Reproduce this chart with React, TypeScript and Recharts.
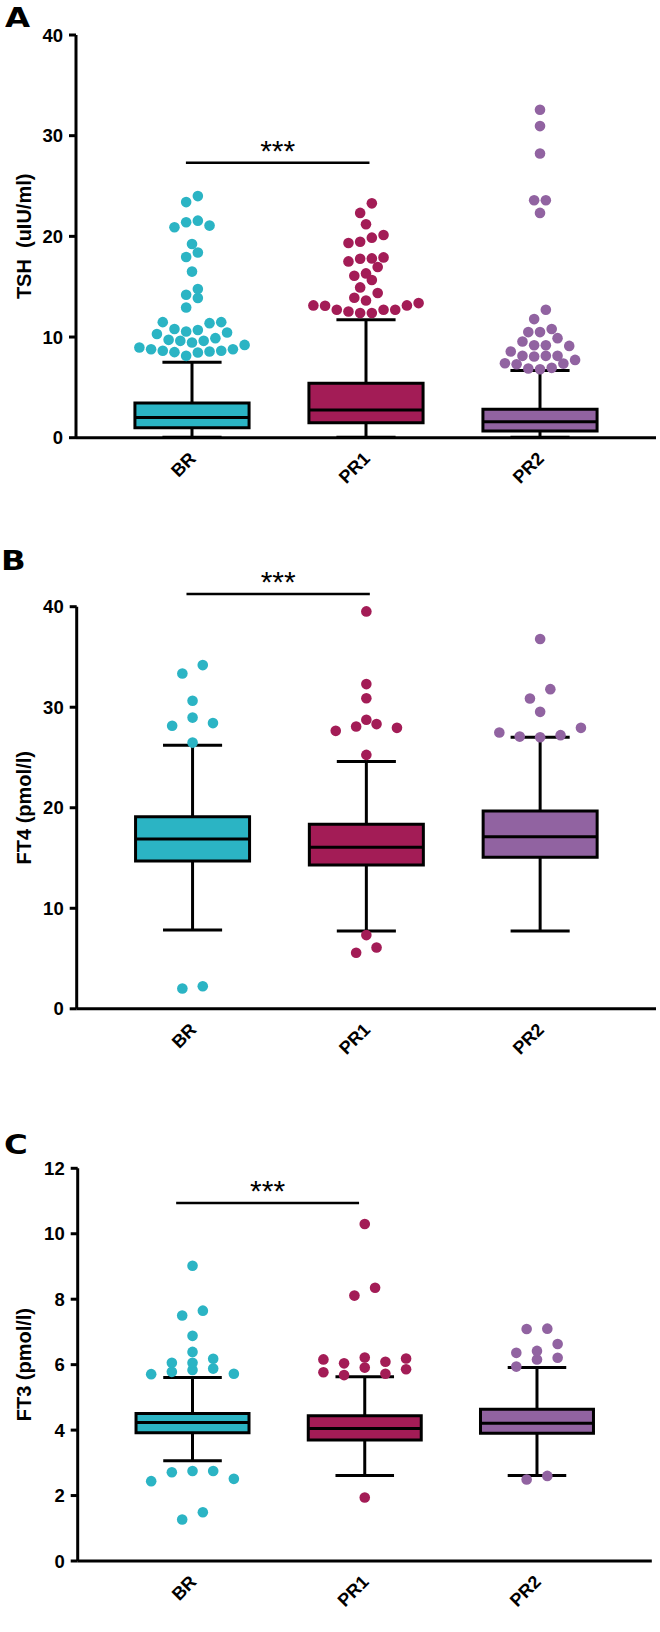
import React from "react";
import {
  ComposedChart,
  Scatter,
  XAxis,
  YAxis,
  ReferenceArea,
  ReferenceLine,
  ReferenceDot,
} from "recharts";

const FONT = '"Liberation Sans", Arial, Helvetica, sans-serif';

const groups = ["BR", "PR1", "PR2"];
const colors = ["#2bb4c4", "#a31c56", "#9163a1"];

// A: TSH (uIU/ml)
const tshBR = [8.56, 9.22, 8.79, 8.96, 8.13, 8.79, 8.5, 8.63, 8.46, 8.63, 9.89, 10.45, 9.45, 10.55, 9.62, 9.72, 10.3, 9.62, 11.48, 11.48, 10.7, 11.38, 10.8, 12.94, 14.2, 13.87, 14.77, 16.5, 17.95, 18.4, 19.24, 21.07, 20.9, 21.56, 21.4, 23.4, 24.0];
const tshPR1 = [12.71, 13.37, 13.14, 13.14, 12.38, 13.1, 12.54, 12.71, 12.38, 12.71, 14.37, 13.63, 13.9, 14.93, 15.66, 16.32, 16.09, 16.95, 17.51, 17.78, 17.91, 17.81, 20.14, 19.47, 19.34, 19.87, 21.2, 22.33, 23.28];
const tshPR2 = [6.94, 8.06, 10.49, 9.19, 8.13, 7.36, 10.79, 9.55, 7.73, 12.71, 6.8, 8.13, 9.12, 9.89, 8.56, 7.4, 11.78, 6.87, 8.13, 9.19, 10.49, 7.3, 22.33, 23.58, 23.58, 28.23, 30.95, 32.58];
const tshLow = [0.05, 0.05, 0.05];
const tshQ1 = [1.0, 1.49, 0.67];
const tshMed = [2.0, 2.76, 1.59];
const tshQ3 = [3.45, 5.41, 2.82];
const tshHigh = [7.5, 11.71, 6.67];
const tshTicks = [0, 10, 20, 30, 40];

// B: FT4 (pmol/l)
const ft4BR = [2.02, 2.25, 26.48, 28.42, 28.15, 28.97, 30.64, 33.36, 34.19];
const ft4PR1 = [5.57, 6.1, 7.33, 25.26, 28.08, 28.75, 27.65, 27.95, 28.32, 30.9, 32.3, 39.53];
const ft4PR2 = [27.08, 27.95, 27.22, 27.48, 27.02, 29.54, 30.87, 31.8, 36.78];
const ft4Low = [7.83, 7.73, 7.73];
const ft4Q1 = [14.7, 14.3, 15.07];
const ft4Med = [16.89, 16.06, 17.12];
const ft4Q3 = [19.11, 18.36, 19.68];
const ft4High = [26.22, 24.59, 27.02];
const ft4Ticks = [0, 10, 20, 30, 40];

// C: FT3 (pmol/l)
const ft3BR = [1.27, 1.49, 2.51, 2.44, 2.75, 2.71, 2.75, 5.84, 5.71, 5.72, 5.78, 5.88, 6.18, 6.06, 6.06, 6.39, 6.88, 7.65, 7.5, 9.02];
const ft3PR1 = [1.94, 6.19, 6.16, 5.86, 6.04, 5.72, 5.77, 6.09, 5.68, 6.22, 5.91, 8.11, 8.35, 10.3];
const ft3PR2 = [2.49, 2.6, 5.94, 6.16, 6.21, 6.63, 6.42, 6.36, 7.09, 7.1];
const ft3Low = [3.06, 2.61, 2.61];
const ft3Q1 = [3.92, 3.7, 3.9];
const ft3Med = [4.23, 4.05, 4.21];
const ft3Q3 = [4.51, 4.44, 4.64];
const ft3High = [5.61, 5.63, 5.91];
const ft3Ticks = [0, 2, 4, 6, 8, 10, 12];

// significance bars (BR vs PR1): x from, x to, y
const tshSig = [-0.035, 1.02, 27.3];
const ft4Sig = [-0.035, 1.02, 41.27];
const ft3Sig = [-0.095, 0.967, 10.94];

const BOX_HALF = 0.328;
const CAP_HALF = 0.17;
const DOT_W = 0.064;

// prism-like column scatter: values binned into rows, rows spread symmetrically
function swarm(values: number[], center: number, lane: number, bin: number) {
  const sorted = [...values].sort((a, b) => a - b);
  const placed: { x: number; y: number }[] = [];
  let i = 0;
  while (i < sorted.length) {
    const start = sorted[i];
    const row: number[] = [];
    while (i < sorted.length && sorted[i] - start <= bin) row.push(sorted[i++]);
    const n = row.length;
    const slots = row.map((_, k) => {
      const off = (k - (n - 1) / 2) * lane;
      const near = placed.filter((p) => Math.abs(p.x - off) < DOT_W).map((p) => p.y);
      return { off, h: near.length ? Math.max(...near) : -Infinity };
    });
    slots.sort((a, b) => a.h - b.h || Math.abs(a.off) - Math.abs(b.off) || a.off - b.off);
    row.forEach((v, k) => placed.push({ x: slots[k].off, y: v }));
  }
  return placed.map((p) => ({ x: center + p.x, y: p.y }));
}

const axisStyle = { stroke: "#000", strokeWidth: 3 };

const yTitle = (text: string) => (props: any) => {
  const vb = props.viewBox || { x: 0, y: 0, height: 0 };
  const cx = vb.x + 23.5;
  const cy = vb.y + vb.height / 2;
  return (
    <text
      x={cx}
      y={cy}
      dy="0.36em"
      transform={`rotate(-90 ${cx} ${cy})`}
      textAnchor="middle"
      fontSize={20}
      fontWeight={700}
      fontFamily={FONT}
      fill="#000"
    >
      {text}
    </text>
  );
};

// category name under the axis, slanted 45 degrees
const groupLabel = (text: string) => (props: any) => {
  const vb = props.viewBox || { x: 0, y: 0, width: 0, height: 0 };
  const ax = vb.x + (vb.width || 0) / 2 + 5;
  const ay = vb.y + (vb.height || 0) / 2 + 22;
  return (
    <text
      x={ax}
      y={ay}
      textAnchor="end"
      fontSize={18}
      fontWeight={700}
      fontFamily={FONT}
      fill="#000"
      style={{
        transform: "rotate(-45deg)",
        transformBox: "view-box",
        transformOrigin: `${ax}px ${ay}px`,
      }}
    >
      {text}
    </text>
  );
};

const dotShape = (props: any) => (
  <circle cx={props.cx} cy={props.cy} r={5.3} fill={props.fill} />
);

type PanelDef = {
  letter: string;
  letterTop: number;
  letterLeft: number;
  top: number;
  height: number;
  margin: { top: number; right: number; bottom: number; left: number };
  xHeight: number;
  yWidth: number;
  title: string;
  ticks: number[];
  series: number[][];
  low: number[];
  q1: number[];
  med: number[];
  q3: number[];
  high: number[];
  sig: number[];
  lane: number;
  bin: number;
};

const panels: PanelDef[] = [
  {
    letter: "A",
    letterTop: 4,
    letterLeft: 5,
    top: 0,
    height: 530,
    margin: { top: 35, right: 4, bottom: 12.3, left: 0 },
    xHeight: 80,
    yWidth: 76,
    title: "TSH\u00a0 (uIU/ml)",
    ticks: tshTicks,
    series: [tshBR, tshPR1, tshPR2],
    low: tshLow,
    q1: tshQ1,
    med: tshMed,
    q3: tshQ3,
    high: tshHigh,
    sig: tshSig,
    lane: 0.0672,
    bin: 1.1,
  },
  {
    letter: "B",
    letterTop: 7,
    letterLeft: 1,
    top: 540,
    height: 560,
    margin: { top: 66.7, right: 4, bottom: 11.2, left: 0 },
    xHeight: 80,
    yWidth: 76.7,
    title: "FT4 (pmol/l)",
    ticks: ft4Ticks,
    series: [ft4BR, ft4PR1, ft4PR2],
    low: ft4Low,
    q1: ft4Q1,
    med: ft4Med,
    q3: ft4Q3,
    high: ft4High,
    sig: ft4Sig,
    lane: 0.1174,
    bin: 1.0,
  },
  {
    letter: "C",
    letterTop: 31,
    letterLeft: 4,
    top: 1100,
    height: 532,
    margin: { top: 68.3, right: 8.2, bottom: 11, left: 0 },
    xHeight: 60,
    yWidth: 77.7,
    title: "FT3 (pmol/l)",
    ticks: ft3Ticks,
    series: [ft3BR, ft3PR1, ft3PR2],
    low: ft3Low,
    q1: ft3Q1,
    med: ft3Med,
    q3: ft3Q3,
    high: ft3High,
    sig: ft3Sig,
    lane: 0.12,
    bin: 0.33,
  },
];

const Panel = ({ d }: { d: PanelDef }) => {
  const dots = d.series.map((vals, i) => swarm(vals, i, d.lane, d.bin));
  const yMax = d.ticks[d.ticks.length - 1];
  return (
    <div style={{ position: "absolute", left: 0, top: d.top, width: 660, height: d.height }}>
      <ComposedChart width={660} height={d.height} margin={d.margin}>
        <XAxis
          type="number"
          dataKey="x"
          domain={[-2 / 3, 8 / 3]}
          ticks={[0, 1, 2]}
          interval={0}
          height={d.xHeight}
          tickSize={6}
          axisLine={axisStyle}
          tickLine={axisStyle}
          tick={false}
        />
        <YAxis
          type="number"
          dataKey="y"
          domain={[0, yMax]}
          ticks={d.ticks}
          interval={0}
          width={d.yWidth}
          tickSize={7}
          tickMargin={6}
          axisLine={axisStyle}
          tickLine={axisStyle}
          tick={{ fill: "#000", fontSize: 18.5, fontWeight: 700, fontFamily: FONT }}
          label={yTitle(d.title)}
        />
        {groups.map((g, i) => (
          <ReferenceArea
            key={"box" + g}
            x1={i - BOX_HALF}
            x2={i + BOX_HALF}
            y1={d.q1[i]}
            y2={d.q3[i]}
            fill={colors[i]}
            fillOpacity={1}
            stroke="#000"
            strokeWidth={3}
          />
        ))}
        {groups.map((g, i) => (
          <ReferenceLine
            key={"med" + g}
            segment={[{ x: i - BOX_HALF, y: d.med[i] }, { x: i + BOX_HALF, y: d.med[i] }]}
            stroke="#000"
            strokeWidth={3}
          />
        ))}
        {groups.map((g, i) => (
          <ReferenceLine
            key={"wh" + g}
            segment={[{ x: i, y: d.q3[i] }, { x: i, y: d.high[i] }]}
            stroke="#000"
            strokeWidth={3}
          />
        ))}
        {groups.map((g, i) => (
          <ReferenceLine
            key={"wl" + g}
            segment={[{ x: i, y: d.q1[i] }, { x: i, y: d.low[i] }]}
            stroke="#000"
            strokeWidth={3}
          />
        ))}
        {groups.map((g, i) => (
          <ReferenceLine
            key={"ch" + g}
            segment={[{ x: i - CAP_HALF, y: d.high[i] }, { x: i + CAP_HALF, y: d.high[i] }]}
            stroke="#000"
            strokeWidth={3}
          />
        ))}
        {groups.map((g, i) => (
          <ReferenceLine
            key={"cl" + g}
            segment={[{ x: i - CAP_HALF, y: d.low[i] }, { x: i + CAP_HALF, y: d.low[i] }]}
            stroke="#000"
            strokeWidth={3}
          />
        ))}
        {groups.map((g, i) => (
          <ReferenceDot
            key={"lab" + g}
            x={i}
            y={0}
            r={0}
            fill="none"
            stroke="none"
            ifOverflow="visible"
            label={groupLabel(g)}
          />
        ))}
        <ReferenceLine
          segment={[{ x: d.sig[0], y: d.sig[2] }, { x: d.sig[1], y: d.sig[2] }]}
          stroke="#000"
          strokeWidth={2.5}
          ifOverflow="visible"
          label={{ value: "***", position: "top", offset: 2, fontSize: 30, fill: "#000", fontFamily: FONT }}
        />
        {dots.map((pts, i) => (
          <Scatter
            key={"dots" + groups[i]}
            data={pts}
            fill={colors[i]}
            shape={dotShape}
            isAnimationActive={false}
          />
        ))}
      </ComposedChart>
      <div
        style={{
          position: "absolute",
          left: d.letterLeft,
          top: d.letterTop,
          fontFamily: '"DejaVu Sans", sans-serif',
          fontWeight: 700,
          fontSize: 27,
          lineHeight: "27px",
          transform: "scaleX(1.2)",
          transformOrigin: "left top",
          color: "#000",
        }}
      >
        {d.letter}
      </div>
    </div>
  );
};

export default function App() {
  return (
    <div style={{ position: "absolute", left: 0, top: 0, width: 660, height: 1632, background: "#fff" }}>
      {panels.map((p) => (
        <Panel key={p.letter} d={p} />
      ))}
    </div>
  );
}
